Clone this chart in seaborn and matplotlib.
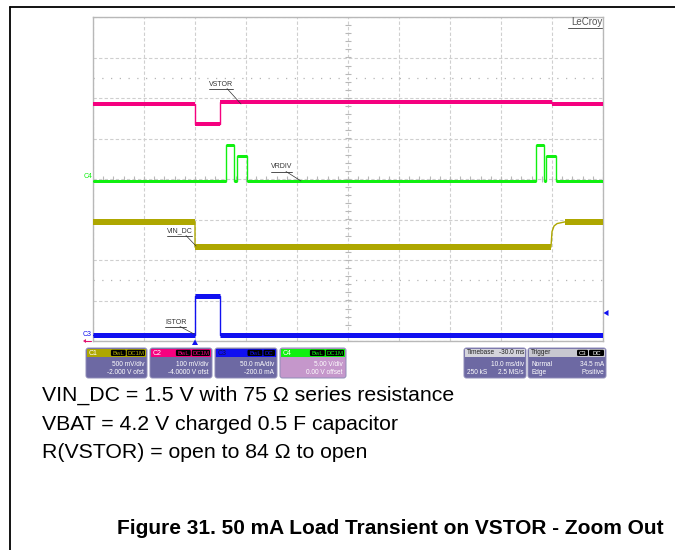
import matplotlib
matplotlib.use("Agg")
import numpy as np
import pandas as pd
import matplotlib.pyplot as plt
import seaborn as sns
from matplotlib.patches import Rectangle, FancyBboxPatch, Polygon

# ---- channel settings (units per division, offset in channel units) ----
ch_scale = {"C1": 0.5, "C2": 0.1, "C3": 50.0, "C4": 5.0}
ch_offset = {"C1": -2.0, "C2": -4.0, "C3": -200.0, "C4": 0.0}

# ---- time axis: ms relative to trigger, 10 ms/div ----
t_first, t_last = -20.0, 80.0

# C2: VSTOR (V)
vstor_t = [-20.0, 0.0, 0.0, 4.9, 4.9, 70.0, 70.0, 80.0]
vstor_v = [4.185, 4.185, 4.137, 4.137, 4.190, 4.190, 4.185, 4.185]

# C4: VRDIV (V)
vrdiv_t = [-20.0, 6.1, 6.1, 7.7, 7.7, 8.2, 8.2, 10.1, 10.1,
           66.9, 66.9, 68.4, 68.4, 68.8, 68.8, 70.8, 70.8, 80.0]
vrdiv_v = [-0.2, -0.2, 4.2, 4.2, -0.2, -0.2, 2.8, 2.8, -0.2,
           -0.2, 4.2, 4.2, -0.2, -0.2, 2.8, 2.8, -0.2, -0.2]

# C1: VIN_DC (V)
vin_t = [-20.0, 0.0, 0.0, 69.8, 70.0, 70.4, 71.0, 72.5, 80.0]
vin_v = [1.474, 1.474, 1.16, 1.16, 1.35, 1.42, 1.45, 1.47, 1.47]

# C3: ISTOR (mA)
istor_t = [-20.0, 0.0, 0.0, 4.9, 4.9, 80.0]
istor_v = [7.0, 7.0, 56.0, 56.0, 7.0, 7.0]

traces = [
    ("VSTOR", "C2", vstor_t, vstor_v),
    ("VRDIV", "C4", vrdiv_t, vrdiv_v),
    ("VIN_DC", "C1", vin_t, vin_v),
    ("ISTOR", "C3", istor_t, istor_v),
]

trace_color = {"C1": "#aea700", "C2": "#f5007f", "C3": "#1010f0", "C4": "#10f010"}
band_px = {"C1": 6, "C2": 4, "C3": 5, "C4": 3}

rows = []
for name, ch, tt, vv in traces:
    for t, v in zip(tt, vv):
        rows.append({"trace": name, "channel": ch, "time": t,
                     "div": (v + ch_offset[ch]) / ch_scale[ch]})
df = pd.DataFrame(rows)

sns.set_theme(style="white")
plt.rcParams["font.family"] = ["Liberation Sans", "DejaVu Sans"]

W, H = 675, 550
L, R, T, B = 93, 603, 17, 341
fig = plt.figure(figsize=(W / 100, H / 100), dpi=100)
fig.patch.set_facecolor("white")
ax = fig.add_axes([L / W, 1 - B / H, (R - L) / W, (B - T) / H])
ax.set_facecolor("white")

# graticule
ax.set_xlim(t_first, t_last)
ax.set_ylim(-4, 4)
ax.set_xticks(np.arange(t_first, t_last + 0.1, 10))
ax.set_yticks(np.arange(-4, 4.1, 1))
ax.tick_params(length=0, labelbottom=False, labelleft=False)
ax.grid(True, color="#cfcfcf", ls=(0, (3, 2)), lw=0.8)
for s in ax.spines.values():
    s.set_color("#b8b8b8")
    s.set_linewidth(1.0)
for yy in (2.5, -2.5):
    ax.axhline(yy, color="#b5b5b5", ls=(0, (1, 6)), lw=0.9, zorder=1)
t_mid = (t_first + t_last) / 2
ax.hlines(np.arange(-4, 4.01, 0.2), t_mid - 0.6, t_mid + 0.6, color="#b8b8b8", lw=0.8)
ax.vlines(np.arange(t_first, t_last + 0.1, 2), -0.08, 0.08, color="#b8b8b8", lw=0.8)

# traces
sns.lineplot(data=df, x="time", y="div", hue="channel", palette=trace_color,
             estimator=None, sort=False, legend=False, lw=1.0, ax=ax, zorder=3)
for name, ch, tt, vv in traces:
    for i in range(len(tt) - 1):
        if vv[i] == vv[i + 1] and tt[i + 1] > tt[i]:
            y = (vv[i] + ch_offset[ch]) / ch_scale[ch]
            ax.hlines(y, tt[i], tt[i + 1], color=trace_color[ch],
                      lw=band_px[ch] * 0.72, zorder=3)
ax.set_xlabel("")
ax.set_ylabel("")

# ---- overlay in pixel coordinates ----
ov = fig.add_axes([0, 0, 1, 1], zorder=5)
ov.set_xlim(0, W)
ov.set_ylim(H, 0)
ov.axis("off")
ov.patch.set_alpha(0)

# outer frame
ov.plot([10, W], [7, 7], color="black", lw=1.3)
ov.plot([10, 10], [7, H], color="black", lw=1.3)

# LeCroy logo
ov.text(602, 22, "LeCroy", ha="right", va="center", fontsize=7, color="#555555")
ov.plot([568, 602], [27.5, 27.5], color="#555555", lw=0.7)

# trace labels with leader lines
def tag(text, x, y, w, x2, y2):
    ov.text(x, y, text, ha="left", va="center", fontsize=5, color="#333333")
    ov.plot([x, x + w], [y + 4.5, y + 4.5], color="#333333", lw=0.6)
    ov.plot([x + w - 6, x2], [y + 4.5, y2], color="#333333", lw=0.5)

tag("VSTOR", 209, 84, 24, 241, 104)
tag("VRDIV", 271, 167, 21, 301, 181)
tag("VIN_DC", 167, 231, 25, 196, 246)
tag("ISTOR", 165, 322, 21, 194, 334)

# channel ground markers
ov.text(84, 177, "C4", ha="left", va="center", fontsize=5, color=trace_color["C4"])
ov.text(83, 335, "C3", ha="left", va="center", fontsize=5, color=trace_color["C3"])
ov.plot([85, 91], [341, 341], color="#e01070", lw=0.8)
ov.add_patch(Polygon([(83, 341), (86, 339), (86, 343)], closed=True, fc="#e01070", ec="none"))

# trigger markers
ov.add_patch(Polygon([(603.5, 313), (608.5, 310), (608.5, 316)], closed=True,
                     fc=trace_color["C3"], ec="none"))
ov.add_patch(Polygon([(195, 339.5), (192, 345), (198, 345)], closed=True,
                     fc=trace_color["C3"], ec="none"))

BODY = "#6d69a3"
Y0, YH, Y1 = 348, 357, 378
SMALL = 4.7

def panel(x0, x1, head_fc, body_fc):
    ov.add_patch(FancyBboxPatch((x0, Y0), x1 - x0, Y1 - Y0,
                                boxstyle="round,pad=0,rounding_size=2.5",
                                fc=body_fc, ec="#8f8cb8", lw=0.7))
    ov.add_patch(Rectangle((x0 + 1, Y0 + 1), x1 - x0 - 2, YH - Y0 - 1,
                           fc=head_fc, ec="none"))

def pill(x0, x1, text, col):
    ov.add_patch(FancyBboxPatch((x0, Y0 + 1.8), x1 - x0, YH - Y0 - 2.8,
                                boxstyle="round,pad=0,rounding_size=1.2",
                                fc="black", ec="none"))
    ov.text((x0 + x1) / 2, (Y0 + YH) / 2 + 0.7, text, ha="center", va="center",
            fontsize=4.3, color=col)

chan_boxes = [
    ("C1", 86, 147, "500 mV/div", "-2.000 V ofst", ["BwL", "DC1M"], BODY),
    ("C2", 150, 212, "100 mV/div", "-4.0000 V ofst", ["BwL", "DC1M"], BODY),
    ("C3", 215, 277, "50.0 mA/div", "-200.0 mA", ["BwL", "DC"], BODY),
    ("C4", 280, 346, "5.00 V/div", "0.00 V offset", ["BwL", "DC1M"], "#c597cb"),
]
for ch, x0, x1, l1, l2, tags, body in chan_boxes:
    col = trace_color[ch]
    panel(x0, x1, col, body)
    ov.text(x0 + 3, (Y0 + YH) / 2 + 0.7, ch, ha="left", va="center",
            fontsize=5, color="white" if ch != "C3" else "#101050")
    xr = x1 - 2
    for tg in reversed(tags):
        w = 5 + 3.3 * len(tg)
        pill(xr - w, xr, tg, col)
        xr -= w + 1
    ov.text(x1 - 3, 365, l1, ha="right", va="center", fontsize=SMALL, color="white")
    ov.text(x1 - 3, 373, l2, ha="right", va="center", fontsize=SMALL, color="white")

# timebase panel
panel(464, 526, "#d4d4dc", BODY)
ov.text(466.5, 353, "Timebase", ha="left", va="center", fontsize=SMALL, color="#202020")
ov.text(524, 353, "-30.0 ms", ha="right", va="center", fontsize=SMALL, color="#202020")
ov.text(524, 365, "10.0 ms/div", ha="right", va="center", fontsize=SMALL, color="white")
ov.text(467, 373, "250 kS", ha="left", va="center", fontsize=SMALL, color="white")
ov.text(524, 373, "2.5 MS/s", ha="right", va="center", fontsize=SMALL, color="white")

# trigger panel
panel(528, 606, "#c8c8d0", BODY)
ov.text(531, 353, "Trigger", ha="left", va="center", fontsize=SMALL, color="#202020")
pill(589, 604, "DC", "white")
pill(577, 588, "C3", "white")
ov.text(531, 365, "Normal", ha="left", va="center", fontsize=SMALL, color="white")
ov.text(604, 365, "34.5 mA", ha="right", va="center", fontsize=SMALL, color="white")
ov.text(531, 373, "Edge", ha="left", va="center", fontsize=SMALL, color="white")
ov.text(604, 373, "Positive", ha="right", va="center", fontsize=SMALL, color="white")

# notes and caption
note_family = ["Liberation Sans", "DejaVu Sans"]
notes = ["VIN_DC = 1.5 V with 75 \u03a9 series resistance",
         "VBAT = 4.2 V charged 0.5 F capacitor",
         "R(VSTOR) = open to 84 \u03a9 to open"]
for i, line in enumerate(notes):
    ov.text(42, 395 + 29 * i, line, ha="left", va="center", fontsize=15.3,
            family=note_family, color="black")
ov.text(117, 528, "Figure 31. 50 mA Load Transient on VSTOR - Zoom Out",
        ha="left", va="center", fontsize=15, fontweight="bold",
        family=note_family, color="black")

fig.savefig("out.png", dpi=100)
